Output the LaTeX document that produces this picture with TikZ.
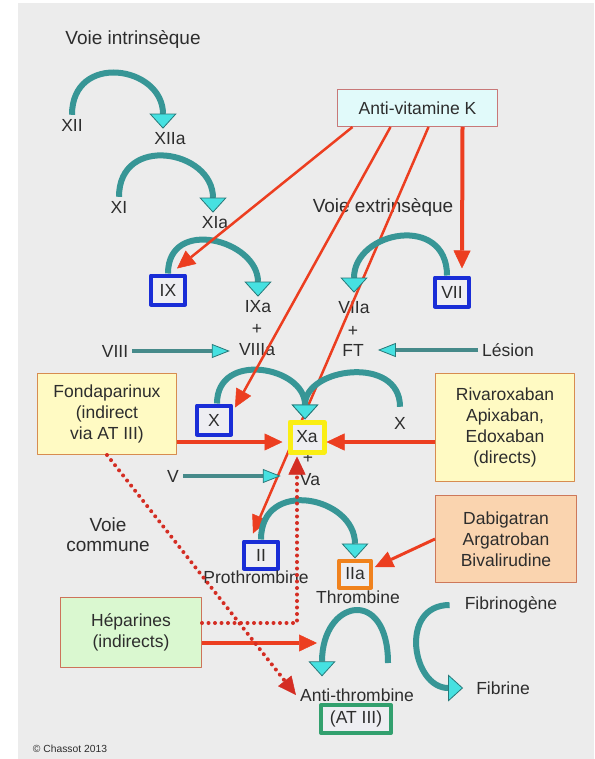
\documentclass[tikz,border=0pt]{standalone}
\usepackage{fontspec}
\setmainfont{Liberation Sans}
\usetikzlibrary{arrows.meta}
\definecolor{ink}{RGB}{45,45,45}
\definecolor{panel}{RGB}{236,236,236}
\definecolor{tealband}{RGB}{55,150,150}
\definecolor{tealedge}{RGB}{40,120,120}
\definecolor{cyanhead}{RGB}{70,225,225}
\definecolor{pushband}{RGB}{70,138,138}
\definecolor{redline}{RGB}{236,62,32}
\definecolor{reddot}{RGB}{212,45,35}
\definecolor{blueframe}{RGB}{25,45,215}
\definecolor{boxin}{RGB}{238,238,242}
\definecolor{yellowframe}{RGB}{250,238,20}
\definecolor{orangeframe}{RGB}{240,130,30}
\definecolor{greenframe}{RGB}{50,160,110}
\definecolor{avkfill}{RGB}{225,250,250}
\definecolor{avkdraw}{RGB}{200,120,120}
\definecolor{yellowfill}{RGB}{255,250,195}
\definecolor{yellowdraw}{RGB}{215,140,80}
\definecolor{salmonfill}{RGB}{250,212,175}
\definecolor{salmondraw}{RGB}{205,120,90}
\definecolor{greenfill}{RGB}{218,248,208}
\definecolor{greendraw}{RGB}{205,115,90}
\begin{document}
\begin{tikzpicture}[x=1pt,y=-1pt,font=\fontsize{17.5}{21}\selectfont,text=ink,line join=round,
	lbl/.style={inner sep=4pt},
	heading/.style={inner sep=2pt,font=\fontsize{19}{20}\selectfont,align=center},
	drug/.style={line width=1.3pt,align=center,inner sep=2pt},
	factor/.style={draw=#1,line width=4pt,fill=boxin,minimum width=34pt,minimum height=29pt,inner sep=0pt},
	flow/.style={draw=tealband,line width=6pt,-{Triangle[length=15pt,width=27pt,fill=cyanhead,line width=0.8pt,color=tealedge]}},
	push/.style={draw=pushband,line width=4.5pt,-{Triangle[length=18pt,width=14pt,fill=cyanhead,line width=0.8pt,color=tealedge]}},
	hit/.style={draw=redline,line width=2.5pt,-{Triangle[length=18pt,width=17pt,line width=0.5pt]}},
	bighit/.style={hit,line width=4pt},
	dotline/.style={draw=reddot,line width=4pt,line cap=round,dash pattern=on 0pt off 6.5pt,-{Triangle[length=18pt,width=17pt,line width=0.5pt]}}]
	\useasboundingbox (0,0) rectangle (594,759);
	\fill[white] (0,0) rectangle (594,759);
	\fill[panel] (18,3) rectangle (594,759);

	\node[heading] (intr) at (133,39) {Voie intrinsèque};
	\node[heading] (extr) at (383,207) {Voie extrinsèque};
	\node[heading] (commune) at (108,535) {Voie\\commune};

	\node[lbl] (xii) at (72,125) {XII};
	\node[lbl] (xiia) at (170,139) {XIIa};
	\node[lbl] (xi) at (119,207) {XI};
	\node[lbl] (xia) at (215,223) {XIa};
	\node[factor=blueframe] (ix) at (168,290) {IX};
	\node[lbl] (ixa) at (258,307) {IXa};
	\node[lbl] (plusa) at (257,329) {+};
	\node[lbl] (viiia) at (257,350) {VIIIa};
	\node[lbl] (viii) at (115,351) {VIII};

	\node[drug,draw=avkdraw,fill=avkfill,minimum width=159.7pt,minimum height=36.7pt] (avk) at (417.5,108) {Anti-vitamine K};
	\node[factor=blueframe] (vii) at (452,292) {VII};
	\node[lbl] (viia) at (354,308) {VIIa};
	\node[lbl] (plusb) at (353,331) {+};
	\node[lbl] (ft) at (353,350) {FT};
	\node[lbl] (lesion) at (508,350) {Lésion};

	\node[drug,draw=yellowdraw,fill=yellowfill,minimum width=138.7pt,minimum height=80.7pt] (fonda) at (107,414) {Fondaparinux\\(indirect\\via AT III)};
	\node[drug,draw=yellowdraw,fill=yellowfill,minimum width=138.7pt,minimum height=107.7pt] (riva) at (505,427.5) {Rivaroxaban\\Apixaban,\\Edoxaban\\(directs)};
	\node[factor=blueframe] (x) at (214,420) {X};
	\node[lbl] (xr) at (400,423) {X};
	\node[lbl] (plusc) at (308,458) {+};
	\node[lbl] (va) at (310,480) {Va};
	\node[lbl] (v) at (173,476) {V};

	\node[factor=blueframe,minimum height=27pt] (ii) at (261,555) {II};
	\node[lbl] (proth) at (256,577) {Prothrombine};
	\node[factor=orangeframe,minimum width=32pt,minimum height=27pt] (iia) at (355,574) {IIa};
	\node[lbl] (thromb) at (358,597) {Thrombine};
	\node[drug,draw=salmondraw,fill=salmonfill,minimum width=140.7pt,minimum height=86.7pt] (dabi) at (506,539) {Dabigatran\\Argatroban\\Bivalirudine};
	\node[lbl] (fibrinogene) at (511,605) {Fibrinogène};
	\node[lbl] (fibrine) at (503,688) {Fibrine};

	\node[drug,draw=greendraw,fill=greenfill,minimum width=140.7pt,minimum height=69.7pt] (hepa) at (131,632.5) {Héparines\\(indirects)};
	\node[lbl] (anti) at (357,695) {Anti-thrombine};
	\node[factor=greenframe,minimum width=70pt,minimum height=28pt] (at) at (356,719) {(AT III)};
	\node[inner sep=1pt,font=\fontsize{10.3}{12}\selectfont] (copy) at (70,749) {© Chassot 2013};

	\coordinate (atfree) at (388,663);
	\coordinate (atin) at (317,643);

	\draw[hit] ([xshift=11pt]avk.south) -- ([shift={(-8pt,6pt)}]ii.north);
	\node[draw=yellowframe,line width=5pt,fill=boxin,minimum width=34pt,minimum height=30pt,inner sep=0pt] (xa) at (307,437) {Xa};

	\draw[flow] (xii.north) .. controls +(0,-63) and +(0,-63) .. ([xshift=-7pt]xiia.north);
	\draw[flow] (xi.north) .. controls +(0,-63) and +(0,-63) .. ([xshift=-2pt]xia.north);
	\draw[flow] (ix.north) .. controls +(0,-57) and +(0,-57) .. (ixa.north);
	\draw[flow] ([xshift=-5pt]vii.north) .. controls +(0,-62) and +(0,-62) .. ([yshift=5pt]viia.north);
	\draw[flow] ([xshift=3pt]x.north) .. controls +(0,-53) and +(0,-53) .. ([xshift=-2pt]xa.north);
	\draw[flow] ([yshift=6pt]xr.north) .. controls +(0,-52) and +(0,-52) .. ([xshift=-2pt]xa.north);
	\draw[flow] (ii.north) .. controls +(0,-62) and +(0,-62) .. (iia.north);
	\draw[flow] (atfree) .. controls +(0,-77) and +(0,-77) .. ([shift={(-35pt,8pt)}]anti.north);
	\draw[flow] ([xshift=-11pt]fibrinogene.west) .. controls +(-51,0) and +(-51,0) .. ([xshift=-9pt]fibrine.west);

	\draw[push,shorten >=5pt] (viii.east) -- (viii.east -| viiia.west);
	\draw[push,shorten >=10pt] (lesion.west) -- (lesion.west -| ft.east);
	\draw[push,shorten >=15pt] (v.east) -- (v.east -| va.west);

	\draw[hit] ([xshift=-65pt]avk.south) -- ([shift={(9pt,5pt)}]ix.north);
	\draw[hit] ([xshift=-27pt]avk.south) -- ([shift={(2pt,-4pt)}]x.north east);
	\draw[bighit] ([xshift=45pt]avk.south) -- ([shift={(10pt,7pt)}]vii.north);
	\draw[bighit,shorten >=5pt] ([yshift=-28pt]fonda.east) -- ([yshift=-28pt]fonda.east -| xa.west);
	\draw[bighit] ([yshift=-14.5pt]riva.west) -- ([yshift=-14.5pt]riva.west -| xa.east);
	\draw[hit,line width=3pt] (dabi.west) -- ([shift={(2pt,7pt)}]iia.east);
	\draw[bighit] ([yshift=-10.5pt]hepa.east) -- (atin);

	\draw[dotline] ([yshift=9.5pt]hepa.east) -| ([shift={(-10pt,-2pt)}]xa.south);
	\draw[dotline] (fonda.south) -- (anti.west);
\end{tikzpicture}
\end{document}
